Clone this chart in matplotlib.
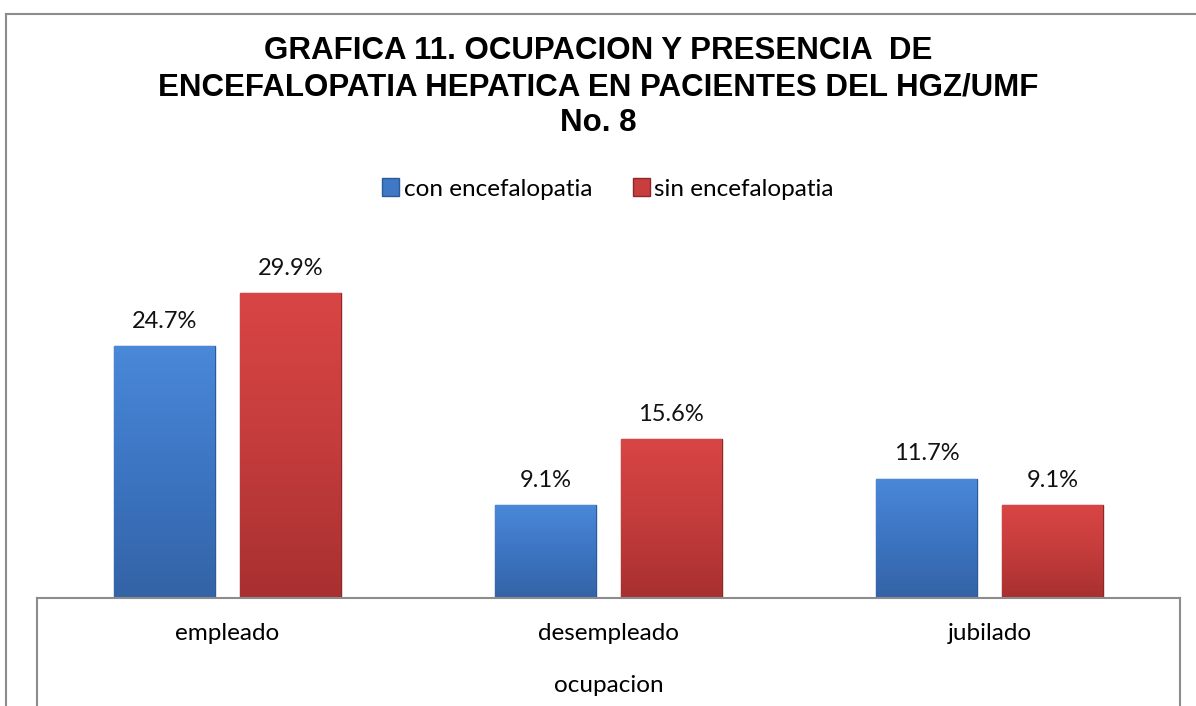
import numpy as np
import matplotlib
matplotlib.use("Agg")
import matplotlib.pyplot as plt
from matplotlib.colors import LinearSegmentedColormap

categories = ["empleado", "desempleado", "jubilado"]
con_encef = [24.7, 9.1, 11.7]
sin_encef = [29.9, 15.6, 9.1]
series_names = ["con encefalopatia", "sin encefalopatia"]

title = "GRAFICA 11. OCUPACION Y PRESENCIA  DE\nENCEFALOPATIA HEPATICA EN PACIENTES DEL HGZ/UMF\nNo. 8"

W, H = 1196, 706
fig = plt.figure(figsize=(W / 100, H / 100), dpi=100)

# outer frame (only left and top edges visible in the picture)
frame_col = "#8c8c8c"
fig.add_artist(plt.Line2D([6 / W, 6 / W], [0, 1 - 14 / H], color=frame_col, lw=1.5))
fig.add_artist(plt.Line2D([6 / W, 1], [1 - 14 / H, 1 - 14 / H], color=frame_col, lw=1.5))

ax_left, ax_right = 37 / W, 1180 / W
base_y = 1 - 598 / H
top_y = 1 - 240 / H
ax = fig.add_axes([ax_left, base_y, ax_right - ax_left, top_y - base_y])

x = np.arange(len(categories))
width = 0.265
offset = 0.165
body_font = "Lato"

blue_cmap = LinearSegmentedColormap.from_list("b", ["#4a88d8", "#3c75c2", "#3463a6"])
red_cmap = LinearSegmentedColormap.from_list("r", ["#d94545", "#c43c3c", "#a83030"])


def draw_series(xpos, vals, cmap, edge):
    bars = ax.bar(xpos, vals, width, color=cmap(0.4), edgecolor=edge, linewidth=1.0, zorder=2)
    grad = np.linspace(0, 1, 256).reshape(-1, 1)
    for b in bars:
        x0, y0 = b.get_x(), b.get_y()
        w, h = b.get_width(), b.get_height()
        im = ax.imshow(grad, cmap=cmap, aspect="auto", extent=[x0, x0 + w, y0, y0 + h],
                       origin="upper", zorder=2.5)
        im.set_clip_path(b)
        ax.text(x0 + w / 2, h + 1.4, f"{h:.1f}%", ha="center", va="bottom",
                fontsize=17, family=body_font, color="#111111")
    return bars


b1 = draw_series(x - offset, con_encef, blue_cmap, "#2c5a96")
b2 = draw_series(x + offset, sin_encef, red_cmap, "#8e2828")

ax.set_xlim(-0.5, 2.5)
ax.set_ylim(0, 35.1)
for s in ["top", "left", "right"]:
    ax.spines[s].set_visible(False)
ax.spines["bottom"].set_color(frame_col)
ax.spines["bottom"].set_linewidth(1.5)
ax.set_yticks([])
ax.set_xticks(x, categories)
ax.tick_params(axis="x", length=0, pad=18, labelsize=17.5)
for t in ax.get_xticklabels():
    t.set_family(body_font)
ax.set_xlabel("ocupacion", fontsize=17.5, family=body_font, labelpad=22)

# box under the baseline
fig.add_artist(plt.Line2D([ax_left, ax_left], [0, base_y], color=frame_col, lw=1.5))
fig.add_artist(plt.Line2D([ax_right, ax_right], [0, base_y], color=frame_col, lw=1.5))

fig.text(598 / W, 1 - 36 / H, title, ha="center", va="top", fontsize=22.5, fontweight="bold",
         family="Liberation Sans", linespacing=1.27)

leg = fig.legend([b1[0], b2[0]], series_names, loc="center", bbox_to_anchor=(608 / W, 1 - 189 / H),
                 ncol=2, frameon=False, prop={"family": body_font, "size": 17.5},
                 handlelength=0.7, handleheight=0.7, handletextpad=0.2, columnspacing=1.65,
                 borderpad=0)

fig.savefig("out.png", dpi=100)
